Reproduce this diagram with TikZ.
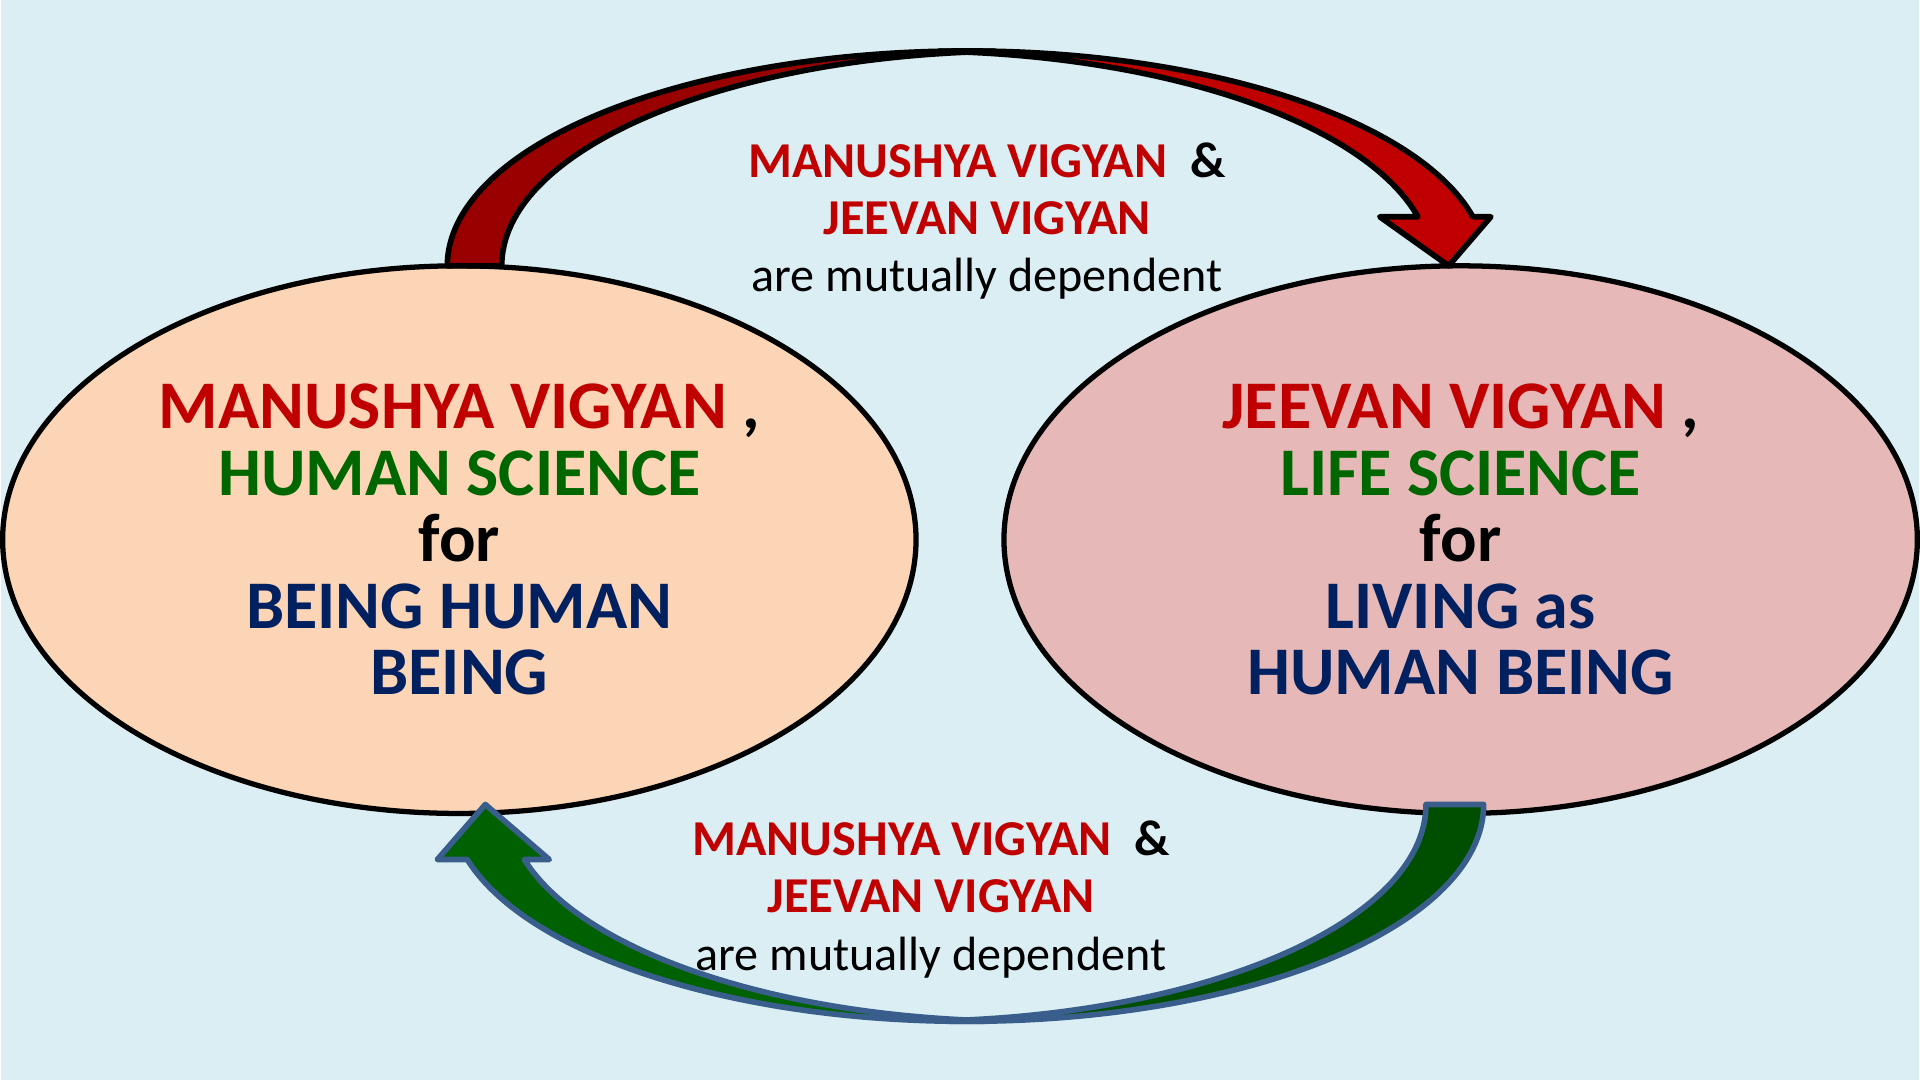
\documentclass[tikz,border=0pt]{standalone}
\usepackage{fontspec}
\setmainfont{Carlito}
\usetikzlibrary{shapes.geometric,calc}
\definecolor{bgblue}{HTML}{DAEEF3}
\definecolor{peach}{HTML}{FBD5B5}
\definecolor{rose}{HTML}{E6B9B8}
\definecolor{vred}{HTML}{C00000}
\definecolor{vgreen}{HTML}{006600}
\definecolor{vnavy}{HTML}{002060}
\definecolor{backred}{HTML}{990000}
\definecolor{backgreen}{HTML}{004F00}
\definecolor{frontgreen}{HTML}{006100}
\definecolor{edgeblue}{HTML}{3A5E8C}
\tikzset{
    sciell/.style={ellipse, draw, line width=1.5pt, inner sep=0pt, outer sep=0pt,
        minimum width=91.4mm, minimum height=54.8mm, align=center,
        font=\fontsize{19.4}{18.9}\selectfont\bfseries},
    deplabel/.style={align=center, font=\fontsize{13.7}{16.3}\selectfont},
    capsfont/.style={font=\fontsize{14.3}{16.3}\selectfont\bfseries},
    redband/.style={draw=black, line width=1.6pt, line join=round},
    greenband/.style={draw=edgeblue, line width=1.6pt, line join=round}
}
\newcommand{\capsline}[1]{{\fontsize{14.3}{16.3}\selectfont\bfseries #1}}

\begin{document}
\begin{tikzpicture}[x=0.1mm, y=0.1mm]
\fill[bgblue] (0,0) rectangle (1920,1081);
\node[sciell, fill=peach] (lsci) at (459,541)
    {\textcolor{vred}{MANUSHYA VIGYAN} ,\\ \textcolor{vgreen}{HUMAN SCIENCE}\\ for\\
     \textcolor{vnavy}{BEING HUMAN}\\ \textcolor{vnavy}{BEING}};
\node[sciell, fill=rose] (rsci) at (1461,541)
    {\textcolor{vred}{JEEVAN VIGYAN} ,\\ \textcolor{vgreen}{LIFE SCIENCE}\\ for\\
     \textcolor{vnavy}{LIVING as}\\ \textcolor{vnavy}{HUMAN BEING}};
% top arrow, left ellipse to right ellipse
\coordinate (tfoot) at ($(lsci.north)+(-12,0)$);
\coordinate (ttip) at ($(rsci.north)+(-12,0)$);
\draw[redband, fill=backred] (tfoot)
    arc[start angle=180, end angle=87, x radius=52mm, y radius=21.5mm]
    arc[start angle=93, end angle=180, x radius=52mm, y radius=21.5mm] -- cycle;
\draw[redband, fill=vred] ($(tfoot)+(492.8,214.7)$)
    arc[start angle=93, end angle=13.2, x radius=52mm, y radius=21.5mm]
    -- ++(18,0) -- (ttip) -- ++(-69,49.1) -- ++(38.2,0)
    arc[start angle=13.2, end angle=87, x radius=52mm, y radius=21.5mm] -- cycle;
% bottom arrow, right ellipse to left ellipse
\coordinate (bfoot) at ($(rsci.south)+(23,9)$);
\coordinate (btip) at ($(lsci.south)+(26,9)$);
\draw[greenband, fill=backgreen] (bfoot)
    arc[start angle=0, end angle=-93.2, x radius=51.7mm, y radius=21.7mm]
    arc[start angle=-86.8, end angle=0, x radius=51.7mm, y radius=21.7mm] -- cycle;
\draw[greenband, fill=frontgreen] ($(bfoot)+(-488.1,-216.7)$)
    arc[start angle=-86.8, end angle=-165.3, x radius=51.7mm, y radius=21.7mm]
    -- ++(-30,0) -- (btip) -- ++(64,-55.1) -- ++(-25,0)
    arc[start angle=-165.3, end angle=-93.2, x radius=51.7mm, y radius=21.7mm] -- cycle;
\node[deplabel] (toplbl) at (987,860)
    {\capsline{\textcolor{vred}{MANUSHYA VIGYAN}\ \ \&}\\ \capsline{\textcolor{vred}{JEEVAN VIGYAN}}\\
     are mutually dependent};
\node[deplabel] (botlbl) at (931,181)
    {\capsline{\textcolor{vred}{MANUSHYA VIGYAN}\ \ \&}\\ \capsline{\textcolor{vred}{JEEVAN VIGYAN}}\\
     are mutually dependent};
\end{tikzpicture}
\end{document}
